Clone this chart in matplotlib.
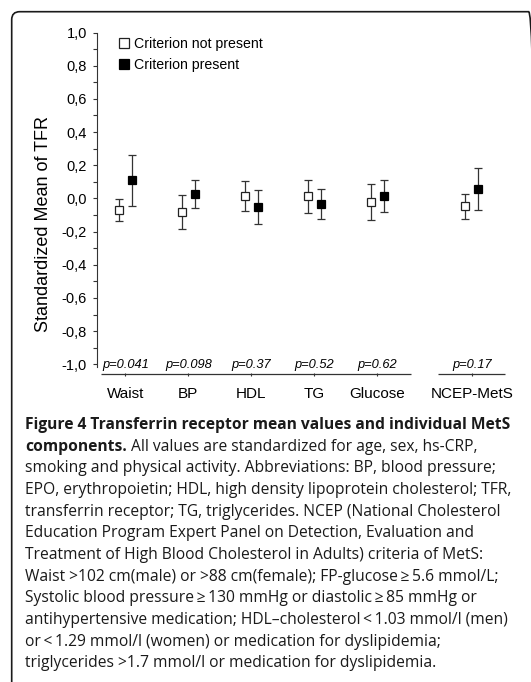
import numpy as np
import matplotlib
matplotlib.use("Agg")
import matplotlib.pyplot as plt
from matplotlib.lines import Line2D
from matplotlib.patches import FancyBboxPatch

# TFR means (standardized) with 95% CI, per MetS component
components = ['Waist', 'BP', 'HDL', 'TG', 'Glucose', 'NCEP-MetS']
absent_mean = [-0.070, -0.080, 0.014, 0.014, -0.022, -0.048]
absent_lo = [-0.134, -0.182, -0.078, -0.086, -0.130, -0.126]
absent_hi = [-0.006, 0.020, 0.104, 0.110, 0.086, 0.028]
present_mean = [0.110, 0.026, -0.052, -0.034, 0.014, 0.058]
present_lo = [-0.046, -0.058, -0.156, -0.126, -0.080, -0.072]
present_hi = [0.264, 0.114, 0.050, 0.056, 0.110, 0.186]
p_values = ['p=0.041', 'p=0.098', 'p=0.37', 'p=0.52', 'p=0.62', 'p=0.17']
ytick_vals = [-1.0, -0.8, -0.6, -0.4, -0.2, 0.0, 0.2, 0.4, 0.6, 0.8, 1.0]
ytick_text = ['-1,0', '-0,8', '-0,6', '-0,4', '-0,2', '0,0', '0,2', '0,4', '0,6', '0,8', '1,0']

caption = [
    [('Figure 4 Transferrin receptor mean values and individual MetS', 'bold')],
    [('components.', 'bold'), (' All values are standardized for age, sex, hs-CRP,', 'normal')],
    [('smoking and physical activity. Abbreviations: BP, blood pressure;', 'normal')],
    [('EPO, erythropoietin; HDL, high density lipoprotein cholesterol; TFR,', 'normal')],
    [('transferrin receptor; TG, triglycerides. NCEP (National Cholesterol', 'normal')],
    [('Education Program Expert Panel on Detection, Evaluation and', 'normal')],
    [('Treatment of High Blood Cholesterol in Adults) criteria of MetS:', 'normal')],
    [('Waist >102 cm(male) or >88 cm(female); FP-glucose\u2009\u2265\u20095.6 mmol/L;', 'normal')],
    [('Systolic blood pressure\u2009\u2265\u2009130 mmHg or diastolic\u2009\u2265\u200985 mmHg or', 'normal')],
    [('antihypertensive medication; HDL\u2013cholesterol\u2009<\u20091.03 mmol/l (men)', 'normal')],
    [('or\u2009<\u20091.29 mmol/l (women) or medication for dyslipidemia;', 'normal')],
    [('triglycerides >1.7 mmol/l or medication for dyslipidemia.', 'normal')],
]

plt.rcParams['font.family'] = ['Liberation Sans', 'DejaVu Sans']

W, H = 531, 682
fig = plt.figure(figsize=(W / 100, H / 100), dpi=100)

# outer rounded frame, open at the bottom
frame = FancyBboxPatch((0.117, -0.5), 5.25, 6.82 - 0.117 + 0.5,
                       boxstyle='round,pad=0,rounding_size=0.08',
                       transform=fig.dpi_scale_trans, fill=False,
                       edgecolor='#1a1a1a', linewidth=1.2)
fig.patches.append(frame)

ax_l, ax_r, ax_t, ax_b = 97.3, 509.6, 32.5, 373.5
ax = fig.add_axes([ax_l / W, 1 - ax_b / H, (ax_r - ax_l) / W, (ax_b - ax_t) / H])

pos = np.append(np.arange(5), 5.5)
off = 0.103

absent_mean = np.array(absent_mean)
present_mean = np.array(present_mean)
a_err = [absent_mean - np.array(absent_lo), np.array(absent_hi) - absent_mean]
p_err = [present_mean - np.array(present_lo), np.array(present_hi) - present_mean]

ax.errorbar(pos - off, absent_mean, yerr=a_err, fmt='s', ms=5.6, mfc='white',
            mec='#222222', mew=0.9, ecolor='#333333', elinewidth=0.9,
            capsize=3.1, capthick=0.9, zorder=3)
ax.errorbar(pos + off, present_mean, yerr=p_err, fmt='s', ms=5.6, mfc='black',
            mec='black', mew=0.9, ecolor='#333333', elinewidth=0.9,
            capsize=3.1, capthick=0.9, zorder=3)

ax.set_xlim(-0.444, 6.1)
ax.set_ylim(-1.055, 1.0)

for s in ['top', 'right', 'bottom']:
    ax.spines[s].set_visible(False)
ax.spines['left'].set_bounds(-1.015, 1.0)
ax.spines['left'].set_linewidth(0.8)
ax.spines['left'].set_color('#333333')

# broken baseline: five components, then the syndrome itself
for x0, x1 in [(-0.39, 4.53), (4.96, 6.03)]:
    ax.plot([x0, x1], [-1.055, -1.055], color='#333333', lw=0.9,
            clip_on=False, solid_capstyle='butt')

ax.set_yticks(ytick_vals, ytick_text)
ax.set_yticks(np.arange(-0.9, 1.0, 0.2), minor=True)
ax.tick_params(axis='y', which='both', direction='out', length=3, width=0.8,
               color='#333333', labelsize=10.5, pad=4.5)
ax.set_xticks(pos, components)
ax.tick_params(axis='x', direction='out', length=2.5, width=0.8,
               color='#333333', labelsize=11, pad=7)

for x, p in zip(pos, p_values):
    ax.text(x, -1.022, p, ha='center', va='baseline', fontsize=9.3,
            style='italic')

ax.set_ylabel('Standardized Mean of TFR', fontsize=13)
ax.yaxis.set_label_coords((52 - ax_l) / (ax_r - ax_l), (ax_b - 224) / (ax_b - ax_t))

handles = [
    Line2D([], [], ls='none', marker='s', ms=7.2, mfc='white', mec='#222222', mew=0.9),
    Line2D([], [], ls='none', marker='s', ms=7.2, mfc='black', mec='black', mew=0.9),
]
ax.legend(handles, ['Criterion not present', 'Criterion present'],
          loc='upper left', bbox_to_anchor=(119 / W, 1 - 37 / H),
          bbox_transform=fig.transFigure, frameon=False, fontsize=10.2,
          handlelength=0.75, handletextpad=0.3, labelspacing=0.5,
          borderpad=0, borderaxespad=0)

# caption block
renderer = fig.canvas.get_renderer()
cap_font = ['Open Sans', 'DejaVu Sans']
cap_size = 11.25
base0, step = 429.0, 21.65
for i, parts in enumerate(caption):
    x = 25.0
    y = 1 - (base0 + i * step) / H
    for txt, weight in parts:
        t = fig.text(x / W, y, txt, ha='left', va='baseline', fontsize=cap_size,
                     fontweight=weight, family=cap_font, color='#1a1a1a')
        x += t.get_window_extent(renderer).width

fig.savefig('out.png', dpi=100)
